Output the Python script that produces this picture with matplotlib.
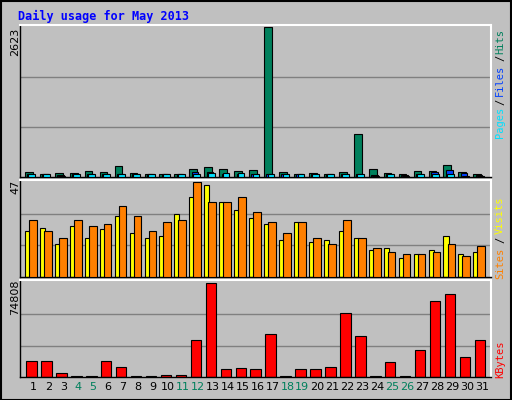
import matplotlib
matplotlib.use("Agg")
import matplotlib.pyplot as plt
import numpy as np

days = list(range(1, 32))
hits = [89, 59, 77, 77, 113, 95, 190, 77, 59, 59, 59, 148, 166, 148, 113, 130, 2623, 95, 59, 77, 59, 95, 753, 148, 77, 47, 113, 113, 202, 95, 47]
files = [59, 47, 30, 59, 59, 59, 59, 59, 47, 47, 47, 89, 95, 59, 59, 59, 59, 59, 47, 59, 47, 59, 59, 30, 59, 30, 59, 95, 130, 77, 30]
pages = [53, 53, 0, 53, 53, 53, 59, 53, 47, 47, 47, 59, 77, 77, 77, 53, 59, 53, 47, 53, 47, 53, 59, 0, 53, 0, 53, 59, 47, 0, 0]
visits = [22.5, 24, 16.3, 25, 19.4, 23.5, 30, 21.5, 19.4, 20.4, 31.2, 39.3, 45.5, 37.3, 33.2, 29.1, 26, 18.4, 27, 17.4, 18.4, 22.5, 19.4, 13.3, 14.3, 9.2, 11.2, 13.3, 20.4, 11.2, 12.3]
sites = [28.1, 22.5, 19.4, 28.1, 25, 26, 35.2, 30, 22.5, 27, 28.1, 47, 37.3, 37.3, 39.3, 32.2, 27, 21.5, 27, 19.4, 16.3, 28.1, 19.4, 14.3, 12.3, 11.2, 11.2, 12.3, 16.3, 10.2, 15.3]
kbytes = [12560, 12560, 3550, 0, 0, 12560, 7640, 0, 0, 1900, 1900, 29760, 74808, 6000, 6830, 6000, 33850, 0, 6000, 6000, 7640, 51050, 32220, 0, 11740, 0, 21570, 60060, 65800, 15830, 29760]
weekend = [4, 5, 11, 12, 18, 19, 25, 26]

W, H = 512, 400
fig = plt.figure(figsize=(W/100, H/100), dpi=100, facecolor="#C0C0C0")
BG = "#C0C0C0"
x = np.array(days)
mono = "DejaVu Sans Mono"

def ax_at(l, t, r, b):
    a = fig.add_axes([l/W, 1-b/H, (r-l)/W, (b-t)/H])
    a.set_facecolor(BG)
    a.set_xlim(0.11, 31.62)
    a.set_xticks([]); a.set_yticks([])
    for s in a.spines.values():
        s.set_color("black"); s.set_linewidth(1)
    a.spines["top"].set_color("white"); a.spines["top"].set_linewidth(1.5)
    a.spines["right"].set_color("white"); a.spines["right"].set_linewidth(1.5)
    return a

fig.patches.append(plt.Rectangle((0.5/W, 0.5/H), 1-1.5/W, 1-1.5/H, transform=fig.transFigure, fill=False, ec="black", lw=1.5))

ec = dict(edgecolor="black", linewidth=0.8)
a1 = ax_at(20, 25, 491, 177)
a1.set_ylim(0, 2623*1.012)
for g in (2623/3, 2623*2/3):
    a1.axhline(g, color="#808080", lw=1, zorder=0)
a1.bar(x-0.30, np.maximum(hits, 15), width=0.52, color="#00805C", **ec, zorder=2)
a1.bar(x-0.18, np.maximum(files, 15), width=0.45, color="#0040FF", **ec, zorder=3)
a1.bar(x-0.10, np.maximum(pages, 15), width=0.45, color="#00E0FF", **ec, zorder=4)

a2 = ax_at(20, 180, 491, 277)
a2.set_ylim(0, 47*1.02)
for g in (47/3, 47*2/3):
    a2.axhline(g, color="#808080", lw=1, zorder=0)
a2.bar(x-0.39, visits, width=0.34, color="#FFFF00", **ec, zorder=2)
a2.bar(x-0.03, sites, width=0.52, color="#FF8000", **ec, zorder=3)

a3 = ax_at(20, 280, 491, 377)
a3.set_ylim(0, 74808*1.03)
for g in (74808/3, 74808*2/3):
    a3.axhline(g, color="#808080", lw=1, zorder=0)
a3.bar(x-0.12, np.maximum(kbytes, 700), width=0.7, color="#FF0000", **ec, zorder=2)

for d in days:
    a3.text(d, -0.1, str(d), transform=a3.get_xaxis_transform(), ha="center", va="center",
            fontsize=8, color="#00805C" if d in weekend else "black", family="DejaVu Sans")

fig.text(18/W, 1-16/H, "Daily usage for May 2013", color="#0000FF", fontsize=8.5,
         fontweight="bold", family=mono, va="center", ha="left")
for lbl, y in (("2623", 42), ("47", 187), ("74808", 297)):
    fig.text(15/W, 1-y/H, lbl, rotation=90, ha="center", va="center", fontsize=8, family="DejaVu Sans")

def rtext(s, yc, c):
    fig.text(500/W, 1-yc/H, s, rotation=90, ha="center", va="center", fontsize=7.5, family=mono, color=c)
rtext("Hits", 41, "#00805C"); rtext("/", 58, "black"); rtext("Files", 80, "#0040FF")
rtext("/", 102, "black"); rtext("Pages", 122, "#00E0FF")
rtext("Visits", 215, "#FFFF00"); rtext("/", 240, "black"); rtext("Sites", 263, "#FF8000")
rtext("KBytes", 359, "#FF0000")

fig.savefig("out.png", dpi=100, facecolor=fig.get_facecolor())
